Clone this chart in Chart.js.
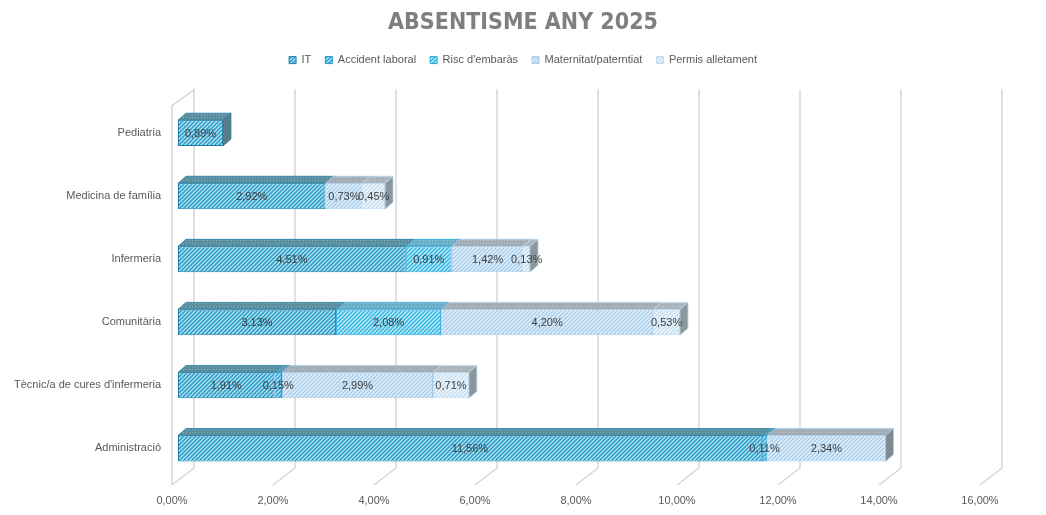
<!DOCTYPE html>
<html>
<head>
<meta charset="utf-8">
<title>Absentisme any 2025</title>
<script src="https://cdn.jsdelivr.net/npm/chart.js@4.4.1/dist/chart.umd.min.js"></script>
<style>
  html, body { margin: 0; padding: 0; background: #fff; }
  #wrap { width: 1046px; height: 515px; }
</style>
</head>
<body>
<div id="wrap"><canvas id="grafic"></canvas></div>
<script>
///// dades del gràfic
const categories = ["Pediatria", "Medicina de família", "Infermeria", "Comunitària", "Tècnic/a de cures d'infermeria", "Administració"];
const series = ["IT", "Accident laboral", "Risc d'embaràs", "Maternitat/paterntiat", "Permis alletament"];
const it = [0.89, 2.92, 4.51, 3.13, 1.91, 11.56];
const accident = [null, null, null, null, 0.15, 0.11];
const risc = [null, null, 0.91, 2.08, null, null];
const maternitat = [null, 0.73, 1.42, 4.20, 2.99, 2.34];
const alletament = [null, 0.45, 0.13, 0.53, 0.71, null];
const xTicks = [0, 2, 4, 6, 8, 10, 12, 14, 16];

const font = "'Liberation Sans', Arial, sans-serif";
const canvas = document.getElementById("grafic");
const ctx0 = canvas.getContext("2d");

///// trames (ratlles i punts)
function ratlles(fons, linia) {
    const c = document.createElement("canvas");
    c.width = 4; c.height = 4;
    const g = c.getContext("2d");
    g.fillStyle = fons; g.fillRect(0, 0, 4, 4);
    g.strokeStyle = linia; g.lineWidth = 1.6;
    g.beginPath();
    g.moveTo(-1, 5); g.lineTo(5, -1);
    g.moveTo(-1, 1); g.lineTo(1, -1);
    g.moveTo(3, 5); g.lineTo(5, 3);
    g.stroke();
    return ctx0.createPattern(c, "repeat");
}
function punts(fons, punt) {
    const c = document.createElement("canvas");
    c.width = 3; c.height = 3;
    const g = c.getContext("2d");
    g.fillStyle = fons; g.fillRect(0, 0, 3, 3);
    g.fillStyle = punt; g.fillRect(0, 0, 1, 1);
    return ctx0.createPattern(c, "repeat");
}

const cares = [ratlles("#c6ebf7", "#2f9fca"), ratlles("#cbeefa", "#2aa5d8"), ratlles("#d2f2fc", "#3cb8e4"), ratlles("#eef6fc", "#aacfec"), ratlles("#f6fafd", "#c8dff2")];
const vores = ["#1f7ea6", "#2193c9", "#2aa9dc", "#a6cbea", "#bcd8ef"];
const sostres = [punts("#5a8fa0", "#86aab5"), punts("#5f9ab2", "#8bb8ca"), punts("#6aaec6", "#94c7d8"), punts("#a2acb3", "#bcc4c9"), punts("#a9b2b8", "#c3c9cd")];
const laterals = ["#5b7b86", "#5e8596", "#6a93a4", "#7f8b92", "#8c979d"];

const valors = [it, accident, risc, maternitat, alletament];

///// perspectiva 3D: parets, graella, sostres i etiquetes
const dx = 8, dy = 7;
const relleu = {
    id: "relleu",
    beforeDatasetsDraw(chart) {
        const { ctx, chartArea, scales: { x } } = chart;
        const dalt = chartArea.top - 12, fons = chartArea.bottom - 12, davant = chartArea.bottom + 5;
        ctx.save();
        ctx.strokeStyle = "#d6d6d6";
        ctx.lineWidth = 1.5;
        xTicks.forEach((v, i) => {
            const px = x.getPixelForValue(v);
            ctx.beginPath();
            if (i === 0) {
                ctx.moveTo(px - 6, davant);
                ctx.lineTo(px - 6, dalt + 16);
                ctx.lineTo(px + 16, dalt);
            } else {
                ctx.moveTo(px + 16, dalt);
            }
            ctx.lineTo(px + 16, fons);
            ctx.lineTo(px - 6, davant);
            ctx.stroke();
        });
        ctx.restore();
    },
    afterDatasetsDraw(chart) {
        const { ctx } = chart;
        ctx.save();
        // sostres
        valors.forEach((serie, d) => {
            const meta = chart.getDatasetMeta(d);
            meta.data.forEach((el, j) => {
                if (serie[j] == null) return;
                const p = el.getProps(["x", "y", "base", "height"], true);
                const t = p.y - p.height / 2;
                ctx.beginPath();
                ctx.moveTo(p.base, t);
                ctx.lineTo(p.x, t);
                ctx.lineTo(p.x + dx, t - dy);
                ctx.lineTo(p.base + dx, t - dy);
                ctx.closePath();
                ctx.fillStyle = sostres[d];
                ctx.fill();
                ctx.strokeStyle = vores[d];
                ctx.lineWidth = 0.8;
                ctx.stroke();
            });
        });
        // laterals (darrer tram de cada barra)
        categories.forEach((c, j) => {
            let d = -1;
            valors.forEach((serie, k) => { if (serie[j] != null) d = k; });
            if (d < 0) return;
            const p = chart.getDatasetMeta(d).data[j].getProps(["x", "y", "height"], true);
            const t = p.y - p.height / 2, b = p.y + p.height / 2;
            ctx.beginPath();
            ctx.moveTo(p.x, t);
            ctx.lineTo(p.x + dx, t - dy);
            ctx.lineTo(p.x + dx, b - dy);
            ctx.lineTo(p.x, b);
            ctx.closePath();
            ctx.fillStyle = laterals[d];
            ctx.fill();
            ctx.strokeStyle = vores[d];
            ctx.lineWidth = 0.8;
            ctx.stroke();
        });
        // etiquetes de dades
        ctx.fillStyle = "#404040";
        ctx.font = "11px " + font;
        ctx.textAlign = "center";
        ctx.textBaseline = "middle";
        valors.forEach((serie, d) => {
            chart.getDatasetMeta(d).data.forEach((el, j) => {
                if (serie[j] == null) return;
                const p = el.getProps(["x", "y", "base"], true);
                ctx.fillText(serie[j].toFixed(2).replace(".", ",") + "%", (p.x + p.base) / 2, p.y + 1);
            });
        });
        ctx.restore();
    }
};

///// creació del gràfic
const grafic = new Chart(canvas, {
    type: "bar",
    data: {
        labels: categories,
        datasets: valors.map((serie, d) => ({
            label: series[d],
            data: serie,
            backgroundColor: cares[d],
            borderColor: vores[d],
            borderWidth: 1,
            borderSkipped: false,
            barPercentage: 0.41,
            categoryPercentage: 1
        }))
    },
    options: {
        indexAxis: "y",
        responsive: true,
        maintainAspectRatio: false,
        animation: false,
        layout: { padding: 0 },
        plugins: {
            tooltip: { enabled: false },
            title: {
                display: true,
                text: "ABSENTISME ANY 2025",
                color: "#7f7f7f",
                font: { family: "'Liberation Sans Narrow', 'DejaVu Sans Condensed', sans-serif", size: 23, weight: "bold", lineHeight: 1.2 },
                padding: { top: 9, bottom: 4 }
            },
            legend: {
                position: "top",
                labels: {
                    boxWidth: 7,
                    boxHeight: 7,
                    padding: 14,
                    color: "#595959",
                    font: { family: font, size: 11 }
                }
            }
        },
        scales: {
            x: {
                stacked: true,
                min: xTicks[0],
                max: xTicks[xTicks.length - 1],
                grid: { display: false, drawTicks: false },
                border: { display: false },
                ticks: {
                    stepSize: xTicks[1] - xTicks[0],
                    color: "#595959",
                    font: { family: font, size: 11 },
                    padding: 14,
                    labelOffset: -6,
                    callback: v => v.toFixed(2).replace(".", ",") + "%"
                },
                afterFit(s) { s.height = 35; }
            },
            y: {
                stacked: true,
                grid: { display: false, drawTicks: false },
                border: { display: false },
                ticks: {
                    color: "#595959",
                    font: { family: font, size: 11 },
                    padding: 17
                },
                afterFit(s) { s.width = 178; }
            },
            xDalt: {
                type: "linear",
                position: "top",
                grid: { display: false, drawTicks: false },
                border: { display: false },
                ticks: { display: false },
                afterFit(s) { s.height = 26; }
            },
            yDreta: {
                type: "linear",
                position: "right",
                grid: { display: false, drawTicks: false },
                border: { display: false },
                ticks: { display: false },
                afterFit(s) { s.width = 60; }
            }
        }
    },
    plugins: [relleu]
});
</script>
</body>
</html>
